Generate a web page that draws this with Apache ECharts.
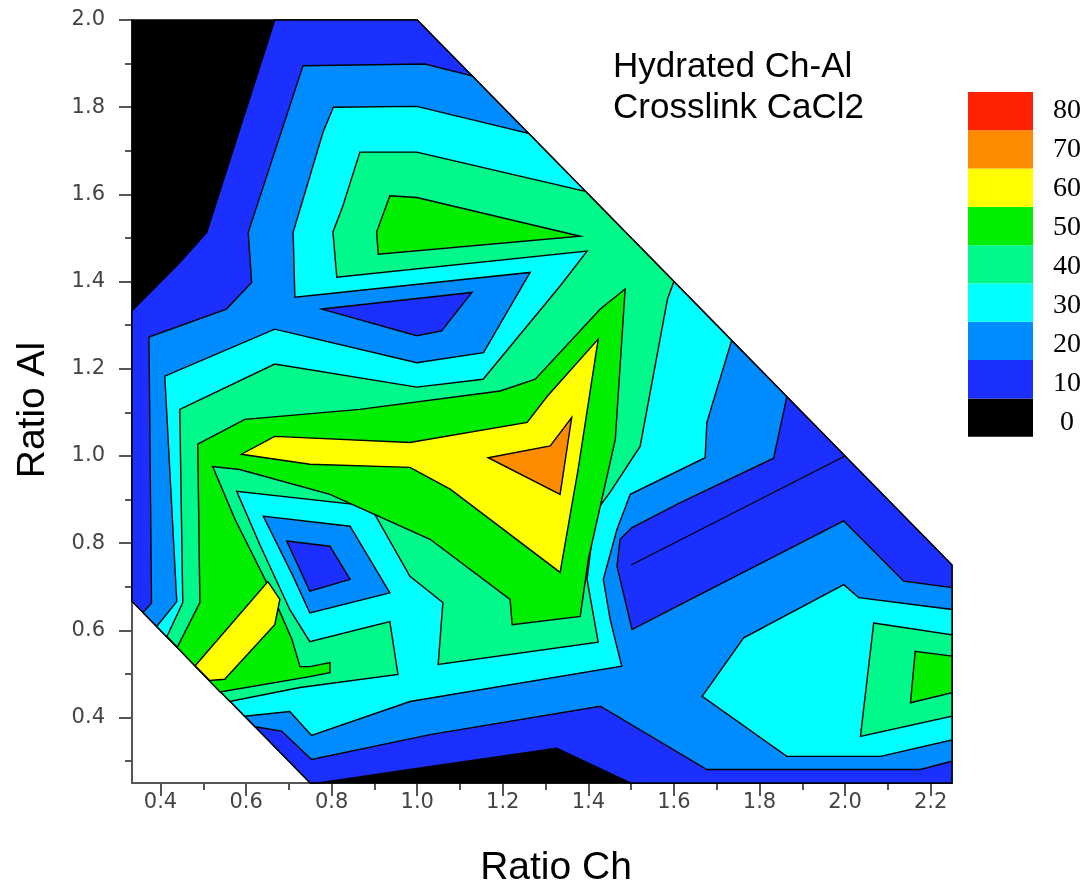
<!DOCTYPE html>
<html>
<head>
<meta charset="utf-8">
<script src="https://cdn.jsdelivr.net/npm/echarts@6/dist/echarts.min.js"></script>
<style>
  html, body { margin: 0; background: #fff; }
  #chart { width: 1091px; height: 892px; }
</style>
</head>
<body>
<div id="chart"></div>
<script>
// contour levels and their fill colours
const levels = [0, 10, 20, 30, 40, 50, 60, 70, 80];
const levelColors = ['#000000', '#1b2fff', '#008cff', '#00ffff', '#00f98a', '#00ee00', '#ffff00', '#ff8c00', '#ff2200'];

const xMajor = [0.4, 0.6, 0.8, 1.0, 1.2, 1.4, 1.6, 1.8, 2.0, 2.2];
const xMinor = [0.5, 0.7, 0.9, 1.1, 1.3, 1.5, 1.7, 1.9, 2.1];
const yMajor = [0.4, 0.6, 0.8, 1.0, 1.2, 1.4, 1.6, 1.8, 2.0];
const yMinor = [0.3, 0.5, 0.7, 0.9, 1.1, 1.3, 1.5, 1.7, 1.9];

// region outlines [Ratio Ch, Ratio Al]
const domain = [[0.3333, 2.0], [1.0, 2.0], [2.25, 0.75], [2.25, 0.25], [0.75, 0.25], [0.3333, 0.6667]];
const above10 = [[0.667, 2.0], [1.0, 2.0], [2.25, 0.75], [2.25, 0.25], [1.498, 0.25], [1.326, 0.33], [0.983, 0.281],
  [0.777, 0.251], [0.75, 0.25], [0.3333, 0.6667], [0.3333, 1.333], [0.445, 1.444], [0.508, 1.513]];
const above20 = [[0.733, 1.895], [1.018, 1.899], [1.128, 1.872], [1.864, 1.136], [1.833, 0.995], [1.615, 0.893],
  [1.502, 0.836], [1.474, 0.809], [1.467, 0.747], [1.502, 0.602], [1.615, 0.659], [1.997, 0.851], [2.137, 0.713],
  [2.25, 0.698], [2.25, 0.3], [2.176, 0.281], [1.677, 0.281], [1.428, 0.426], [1.03, 0.361], [0.753, 0.304],
  [0.683, 0.369], [0.621, 0.379], [0.359, 0.641], [0.379, 0.663], [0.373, 1.273], [0.554, 1.337], [0.613, 1.398],
  [0.605, 1.513]];
const low10Upper = [[0.777, 1.337], [1.128, 1.375], [1.057, 1.287], [0.999, 1.276]];
const above30 = [[0.391, 0.609], [0.438, 0.666], [0.41, 1.183], [0.667, 1.291], [0.999, 1.214], [1.155, 1.237],
  [1.264, 1.421], [0.714, 1.364], [0.71, 1.513], [0.78, 1.743], [0.804, 1.8], [0.999, 1.802], [1.26, 1.74],
  [1.735, 1.265], [1.677, 1.077], [1.673, 0.996], [1.498, 0.912], [1.467, 0.832], [1.435, 0.717], [1.451, 0.625],
  [1.478, 0.518], [0.983, 0.437], [0.753, 0.359], [0.702, 0.414], [0.597, 0.403]];
const above30Right = [[1.997, 0.705], [2.032, 0.675], [2.25, 0.648], [2.25, 0.349], [2.083, 0.311], [1.864, 0.311],
  [1.666, 0.449], [1.763, 0.583]];
const above40Right = [[2.067, 0.617], [2.25, 0.59], [2.25, 0.403], [2.036, 0.357]];
const above50Right = [[2.164, 0.552], [2.25, 0.541], [2.25, 0.457], [2.153, 0.434]];
const above40 = [[0.866, 1.697], [0.999, 1.697], [1.393, 1.607], [1.6, 1.4], [1.585, 1.36], [1.521, 1.022],
  [1.451, 0.917], [1.416, 0.871], [1.397, 0.717], [1.423, 0.573], [1.049, 0.522], [1.06, 0.664], [0.983, 0.724],
  [0.89, 0.885], [0.578, 0.919], [0.632, 0.797], [0.702, 0.648], [0.749, 0.574], [0.936, 0.62], [0.955, 0.499],
  [0.726, 0.469], [0.562, 0.437], [0.415, 0.586], [0.452, 0.664], [0.445, 1.107], [0.667, 1.211], [0.999, 1.158],
  [1.154, 1.176], [1.334, 1.39], [1.397, 1.47], [0.812, 1.41], [0.803, 1.514], [0.826, 1.573]];
const low20Island = [[0.64, 0.862], [0.843, 0.839], [0.936, 0.686], [0.749, 0.64], [0.71, 0.724]];
const low10Island = [[0.695, 0.805], [0.796, 0.793], [0.843, 0.717], [0.749, 0.69]];
const above50Upper = [[0.936, 1.597], [0.999, 1.593], [1.381, 1.504], [0.909, 1.463], [0.905, 1.513]];
const above50 = [[0.487, 1.027], [0.597, 1.084], [0.866, 1.107], [1.194, 1.149], [1.276, 1.176], [1.428, 1.337],
  [1.486, 1.383], [1.463, 1.038], [1.4, 0.763], [1.381, 0.632], [1.222, 0.613], [1.217, 0.671], [1.03, 0.809],
  [0.796, 0.912], [0.585, 0.969], [0.522, 0.976], [0.574, 0.855], [0.656, 0.694], [0.707, 0.58], [0.726, 0.517],
  [0.749, 0.517], [0.796, 0.526], [0.796, 0.503], [0.749, 0.494], [0.539, 0.459], [0.439, 0.561], [0.492, 0.664]];
const above60 = [[0.589, 1.004], [0.667, 1.045], [0.983, 1.031], [1.257, 1.077], [1.304, 1.137], [1.423, 1.268],
  [1.376, 0.969], [1.334, 0.733], [1.077, 0.924], [0.983, 0.974], [0.749, 0.981]];
const above60Arm = [[0.481, 0.519], [0.651, 0.712], [0.679, 0.671], [0.667, 0.613], [0.55, 0.488], [0.515, 0.485]];
const above70 = [[1.166, 0.996], [1.311, 1.023], [1.361, 1.088], [1.334, 0.912]];
const bandRidge = [[1.5, 0.75], [2.0, 1.0]];

// faces drawn outer first, level = index into levels
const faces = [
  [0, domain], [1, above10], [2, above20], [1, low10Upper], [3, above30], [3, above30Right],
  [4, above40Right], [5, above50Right], [4, above40], [2, low20Island], [1, low10Island],
  [5, above50Upper], [5, above50], [6, above60], [6, above60Arm], [7, above70]
];

const chart = echarts.init(document.getElementById('chart'));

const axisLine = { show: true, lineStyle: { color: '#555', width: 2 } };
const tickStyle = { color: '#555', width: 2 };
const labelStyle = { color: '#444', fontSize: 21, fontFamily: 'DejaVu Sans' };

const option = {
  animation: false,
  grid: { left: 132, right: 139, top: 20, bottom: 109 },
  xAxis: [
    {
      type: 'value', min: 1 / 3, max: 2.25, axisLine: axisLine, splitLine: { show: false },
      axisTick: { show: true, length: 13, lineStyle: tickStyle, customValues: xMajor },
      axisLabel: Object.assign({ margin: 9, customValues: xMajor, formatter: v => v.toFixed(1) }, labelStyle)
    },
    {
      type: 'value', min: 1 / 3, max: 2.25, position: 'bottom', axisLine: { show: false }, splitLine: { show: false },
      axisTick: { show: true, length: 7, lineStyle: tickStyle, customValues: xMinor },
      axisLabel: { show: false }
    }
  ],
  yAxis: [
    {
      type: 'value', min: 0.25, max: 2.0, axisLine: axisLine, splitLine: { show: false },
      axisTick: { show: true, length: 13, lineStyle: tickStyle, customValues: yMajor },
      axisLabel: Object.assign({ margin: 27, customValues: yMajor, formatter: v => v.toFixed(1) }, labelStyle)
    },
    {
      type: 'value', min: 0.25, max: 2.0, position: 'left', axisLine: { show: false }, splitLine: { show: false },
      axisTick: { show: true, length: 7, lineStyle: tickStyle, customValues: yMinor },
      axisLabel: { show: false }
    }
  ],
  series: [
    {
      type: 'custom',
      coordinateSystem: 'cartesian2d',
      silent: true,
      data: faces.map((f, i) => [f[1][0][0], f[1][0][1], i]),
      encode: { x: 0, y: 1 },
      renderItem: (params, api) => {
        const f = faces[params.dataIndex];
        return {
          type: 'polygon',
          shape: { points: f[1].map(p => api.coord(p)) },
          style: { fill: levelColors[f[0]], stroke: '#000', lineWidth: 1.4 }
        };
      }
    },
    {
      type: 'line', data: bandRidge, symbol: 'none', silent: true,
      lineStyle: { color: '#000', width: 1.4 }
    }
  ],
  graphic: [
    {
      type: 'text', left: 613, top: 47,
      style: { text: 'Hydrated Ch-Al\nCrosslink CaCl2', font: '35px "Liberation Sans"', lineHeight: 41, fill: '#000' }
    },
    {
      type: 'text', x: 556, y: 868,
      style: { text: 'Ratio Ch', font: '39px "Liberation Sans"', fill: '#000', align: 'center', verticalAlign: 'middle' }
    },
    {
      type: 'text', x: 33, y: 410, rotation: Math.PI / 2,
      style: { text: 'Ratio Al', font: '39px "Liberation Sans"', fill: '#000', align: 'center', verticalAlign: 'middle' }
    }
  ].concat(levels.map((lv, i) => ({
    type: 'rect',
    shape: { x: 968, y: 92 + (levels.length - 1 - i) * 38.3, width: 65, height: 38.3 },
    style: { fill: levelColors[i] }
  }))).concat(levels.map((lv, i) => ({
    type: 'text', x: 1067, y: 111 + (levels.length - 1 - i) * 38.9,
    style: { text: String(lv), font: '28px "Liberation Serif"', fill: '#000', align: 'center', verticalAlign: 'middle' }
  })))
};

chart.setOption(option);
</script>
</body>
</html>
